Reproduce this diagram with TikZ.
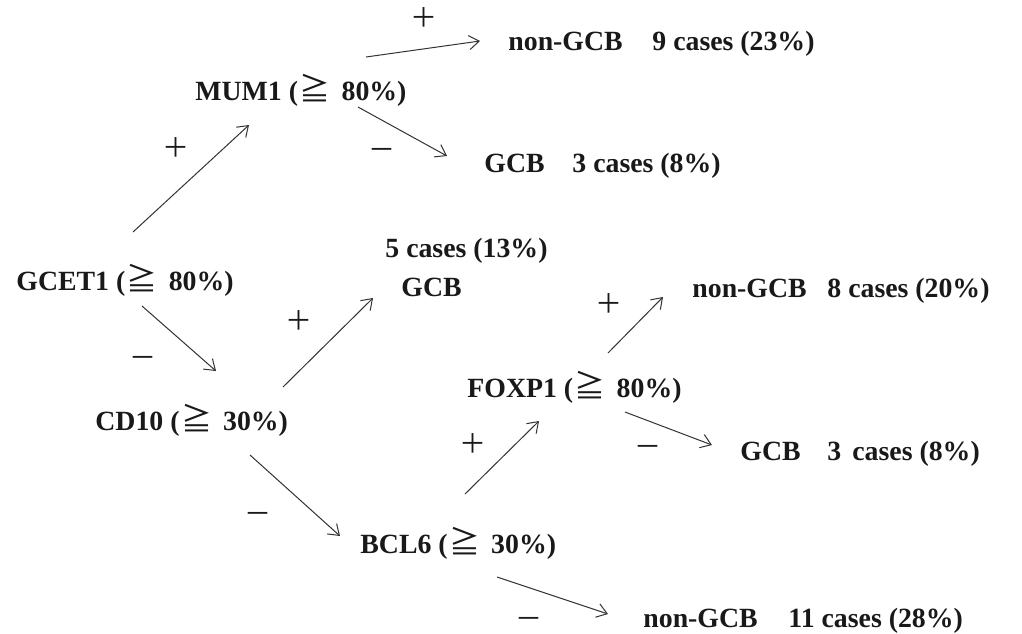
\documentclass[tikz,border=0pt]{standalone}
\usepackage{fontspec}
\setmainfont{Liberation Serif}
\newfontfamily\cjk{Noto Sans CJK JP}
\usetikzlibrary{arrows.meta}
\newcommand{\geqq}{\kern0.8pt{\cjk\mdseries\fontsize{15.5}{16}\selectfont ≧}\kern2pt}
\begin{document}
\begin{tikzpicture}[x=0.5pt,y=-0.5pt,
  lbl/.style={font=\fontsize{13.9}{16}\selectfont\bfseries, text=black!90, inner sep=0pt, anchor=base west},
  sgn/.style={font=\fontsize{13.5}{16}\selectfont\cjk, text=black!90, inner sep=0pt, anchor=center},
  arr/.style={draw=black!80, line width=0.5pt, -{Straight Barb[length=5pt,width=7pt]}}]
\useasboundingbox (0,0) rectangle (1022,633);
\fill[white] (0,0) rectangle (1022,633);
% nodes
\node[lbl] (gcet) at (16,290) {GCET1 (\geqq\ 80\%)};
\node[lbl] (mum) at (195,100) {MUM1 (\geqq\ 80\%)};
\node[lbl] (ng9a) at (508,50) {non-GCB};
\node[lbl] (ng9b) at (652,50) {9 cases (23\%)};
\node[lbl] (g3a) at (484,172) {GCB};
\node[lbl] (g3b) at (572,172) {3 cases (8\%)};
\node[lbl] (c5) at (385,257) {5 cases (13\%)};
\node[lbl] (g5) at (401,296) {GCB};
\node[lbl] (cd10) at (95,430) {CD10 (\geqq\ 30\%)};
\node[lbl] (foxp) at (467,397) {FOXP1 (\geqq\ 80\%)};
\node[lbl] (ng8a) at (692,297) {non-GCB};
\node[lbl] (ng8b) at (827,297) {8 cases (20\%)};
\node[lbl] (g3fa) at (740,460) {GCB};
\node[lbl] (g3fb) at (827,460) {3\hspace{0.4em}cases (8\%)};
\node[lbl] (bcl) at (360,553) {BCL6 (\geqq\ 30\%)};
\node[lbl] (ng11a) at (643,627) {non-GCB};
\node[lbl] (ng11b) at (788,627) {11 cases (28\%)};
% signs
\node[sgn] (s1) at (424,18) {＋};
\node[sgn] (s2) at (176,148) {＋};
\node[sgn] (s3) at (382,154) {－};
\node[sgn] (s4) at (143,362) {－};
\node[sgn] (s5) at (299,321) {＋};
\node[sgn] (s6) at (609,304) {＋};
\node[sgn] (s7) at (473,444) {＋};
\node[sgn] (s8) at (648,451) {－};
\node[sgn] (s9) at (258,518) {－};
\node[sgn] (s10) at (529,623) {－};
% arrows
\draw[arr] ([shift={(117,-58)}]gcet.base west) -- ([shift={(54,25)}]mum.base west);
\draw[arr] ([shift={(171,-43)}]mum.base west) -- ([shift={(-28,-9)}]ng9a.base west);
\draw[arr] ([shift={(163,7)}]mum.base west) -- ([shift={(-37,-16)}]g3a.base west);
\draw[arr] ([shift={(126,16)}]gcet.base west) -- ([shift={(121,-59)}]cd10.base west);
\draw[arr] ([shift={(188,-43)}]cd10.base west) -- ([shift={(-28,2)}]g5.base west);
\draw[arr] ([shift={(155,25)}]cd10.base west) -- ([shift={(-20,-17)}]bcl.base west);
\draw[arr] ([shift={(105,-59)}]bcl.base west) -- ([shift={(72,24)}]foxp.base west);
\draw[arr] ([shift={(141,-44)}]foxp.base west) -- ([shift={(-29,0)}]ng8a.base west);
\draw[arr] ([shift={(158,15)}]foxp.base west) -- ([shift={(-28,-15)}]g3fa.base west);
\draw[arr] ([shift={(137,24)}]bcl.base west) -- ([shift={(-35,-13)}]ng11a.base west);
\end{tikzpicture}
\end{document}
